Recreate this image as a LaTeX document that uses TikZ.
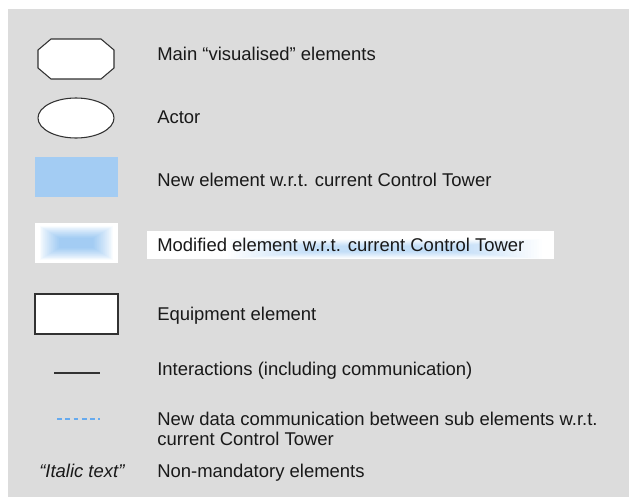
\documentclass[tikz,border=0pt]{standalone}
\usepackage{fontspec}
\setmainfont{Liberation Sans}
\definecolor{panelgrey}{RGB}{220,220,220}
\definecolor{newblue}{RGB}{163,204,243}
\definecolor{dashblue}{RGB}{102,170,238}
\definecolor{outline}{RGB}{50,50,50}
\tikzset{
  legendtext/.style={anchor=base west, inner sep=0pt, text=black!90,
    font=\fontsize{13.85}{15}\selectfont, align=left},
  symbolline/.style={draw=outline, line width=0.8pt},
}
\begin{document}
\begin{tikzpicture}[x=0.75pt, y=-0.75pt]
  % page and grey panel
  \fill[white] (0,0) rectangle (629,497);
  \useasboundingbox (0,0) rectangle (629,497);
  \fill[panelgrey] (8,9) rectangle (629,497);

  % main visualised element: octagon
  \filldraw[symbolline, fill=white]
    (51,39) -- (101,39) -- (114,50) -- (114,68) -- (101,79) -- (51,79)
    -- (38,68) -- (38,50) -- cycle;
  \node[legendtext] (tmain) at (157,60.5) {Main “visualised” elements};

  % actor: ellipse
  \filldraw[symbolline, fill=white] (76,118) ellipse [x radius=38, y radius=20];
  \node[legendtext] (tactor) at (157,123.3) {Actor};

  % new element: plain blue box
  \fill[newblue] (35,157) rectangle (117.5,197);
  \node[legendtext] (tnew) at (157,186.7) {New element w.r.t. current Control Tower};

  % modified element: white box with a rectangular blue gradient
  \fill[white] (35,223) rectangle (117.5,263);
  \foreach \i in {0,...,30}{
    \pgfmathsetmacro{\t}{\i/30}
    \pgfmathsetmacro{\hw}{37-20*\t}
    \pgfmathsetmacro{\hh}{17-12*\t}
    \pgfmathsetmacro{\pc}{100*(\t^0.8)}
    \fill[newblue!\pc!white] (76.25-\hw,243-\hh) rectangle (76.25+\hw,243+\hh);
  }
  % white label box with a soft blue glow under the words
  \fill[white] (147,231) rectangle (553.5,259);
  \begin{scope}
    \clip (147,231) rectangle (553.5,259);
    \foreach \i in {0,...,30}{
      \pgfmathsetmacro{\t}{\i/30}
      \pgfmathsetmacro{\hw}{160-85*\t}
      \pgfmathsetmacro{\hh}{10-7*\t}
      \pgfmathsetmacro{\pc}{65*\t}
      \fill[newblue!\pc!white] (385-\hw,249-\hh) rectangle (385+\hw,249+\hh);
    }
  \end{scope}
  \node[legendtext] (tmod) at (157,251.7) {Modified element w.r.t. current Control Tower};

  % equipment element
  \filldraw[symbolline, fill=white, line width=1pt] (35,294) rectangle (118,334);
  \node[legendtext] (tequip) at (157,320.7) {Equipment element};

  % interactions: solid line
  \coordinate (ia) at (54,373);
  \coordinate (ib) at (99.5,373);
  \draw[outline, line width=0.8pt] (ia) -- (ib);
  \node[legendtext] (tinter) at (157,375) {Interactions (including communication)};

  % new data communication: dashed line
  \coordinate (da) at (57,419);
  \coordinate (db) at (99.5,419);
  \draw[dashblue, line width=0.9pt, dash pattern=on 3.6pt off 2.6pt] (da) -- (db);
  \node[legendtext] (tdata) at (157,445)
    {New data communication between sub elements w.r.t.\\current Control Tower};

  % non-mandatory elements
  \node[legendtext, font=\fontsize{13.85}{15}\selectfont\itshape] (titalic) at (39,477.7) {“Italic text”};
  \node[legendtext] (tnonmand) at (157,477.7) {Non-mandatory elements};
\end{tikzpicture}
\end{document}
